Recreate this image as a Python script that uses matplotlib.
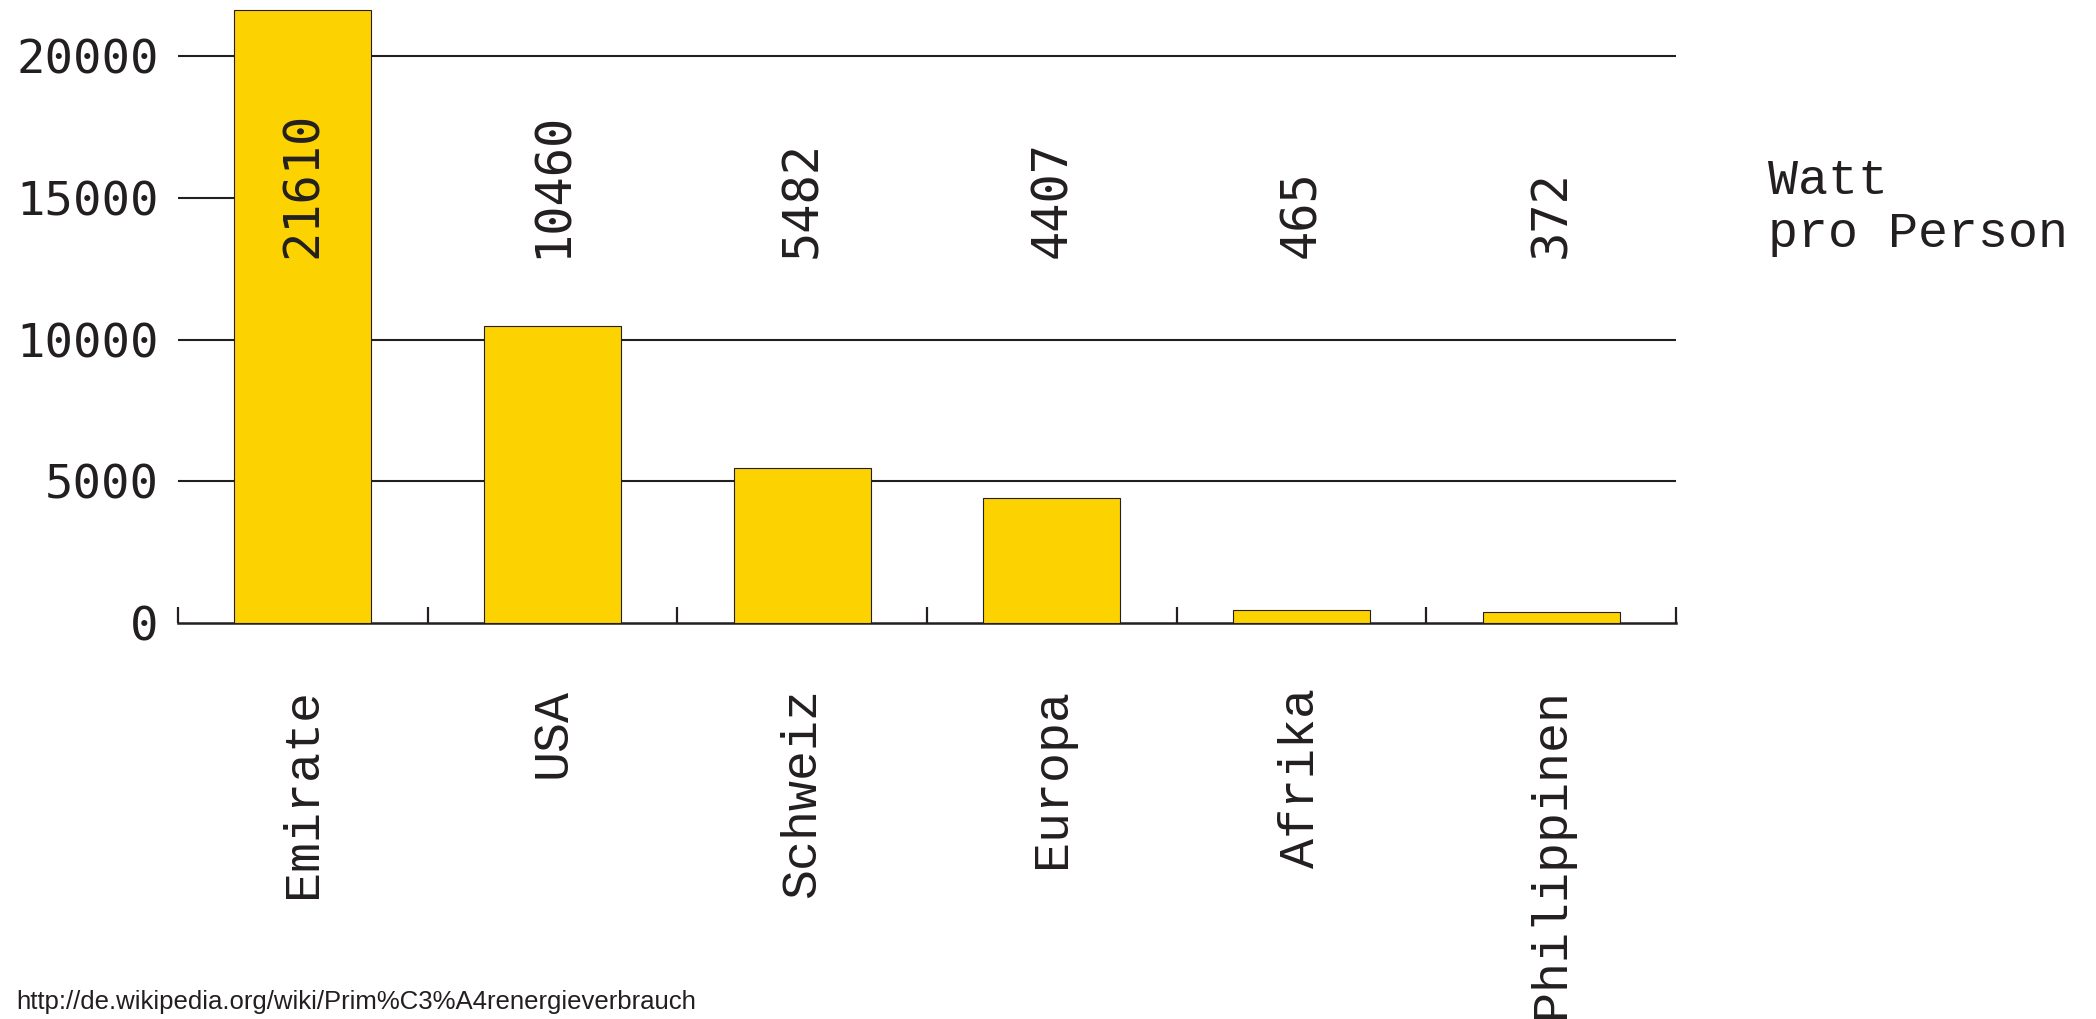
import matplotlib.pyplot as plt
import numpy as np

laender = ["Emirate", "USA", "Schweiz", "Europa", "Afrika", "Philippinen"]
watt = [21610, 10460, 5482, 4407, 465, 372]
y_ticks = [0, 5000, 10000, 15000, 20000]
quelle = "http://de.wikipedia.org/wiki/Prim%C3%A4renergieverbrauch"

ink = "#231f20"
gelb = "#fcd200"
bar_w = 0.55

fig = plt.figure(figsize=(20.96, 10.19), dpi=100)
ax = fig.add_axes([178 / 2096, 396 / 1019, (1676 - 178) / 2096, (1019 - 396 - 5) / 1019])

x = np.arange(len(laender))
ax.bar(x, watt, width=bar_w, color=gelb, edgecolor=ink, linewidth=0.8, zorder=3)

# value labels, all ending at the same height
for xi, v in zip(x, watt):
    ax.text(xi, 12880, str(v), rotation=90, ha="center", va="bottom",
            fontsize=35, family="DejaVu Sans Mono", color=ink, zorder=4)

ax.set_xlim(-0.5, len(laender) - 0.5)
ax.set_ylim(0, 21800)

# horizontal lines; the 15000 one is only a stub up to the first bar
for t in y_ticks[1:]:
    x_end = -bar_w / 2 if t == 15000 else len(laender) - 0.5
    ax.hlines(t, -0.5, x_end, color=ink, linewidth=1.5, zorder=1)

ax.set_yticks(y_ticks)
ax.set_yticklabels([str(t) for t in y_ticks], family="DejaVu Sans Mono",
                   fontsize=34, color=ink)
ax.tick_params(axis="y", length=0, pad=14)

# x axis: category labels under bars, small inward ticks between them
ax.set_xticks(x)
ax.set_xticklabels(laender, rotation=90, family="Liberation Mono",
                   fontsize=36, color=ink)
ax.tick_params(axis="x", which="major", length=0, pad=47)
ax.set_xticks(np.arange(-0.5, len(laender), 1.0), minor=True)
ax.tick_params(axis="x", which="minor", direction="in", length=11.5,
               width=1.6, color=ink)

for s in ["left", "top", "right"]:
    ax.spines[s].set_visible(False)
ax.spines["bottom"].set_color(ink)
ax.spines["bottom"].set_linewidth(1.8)

fig.text(1768 / 2096, 1 - 158 / 1019, "Watt\npro Person", ha="left", va="top",
         family="Liberation Mono", fontsize=36, color=ink, linespacing=1.2)

fig.text(16 / 2096, 1 - 1002 / 1019, quelle, ha="left", va="center",
         family="Liberation Sans", fontsize=18.5, color=ink)

fig.savefig("out.png", dpi=100)
